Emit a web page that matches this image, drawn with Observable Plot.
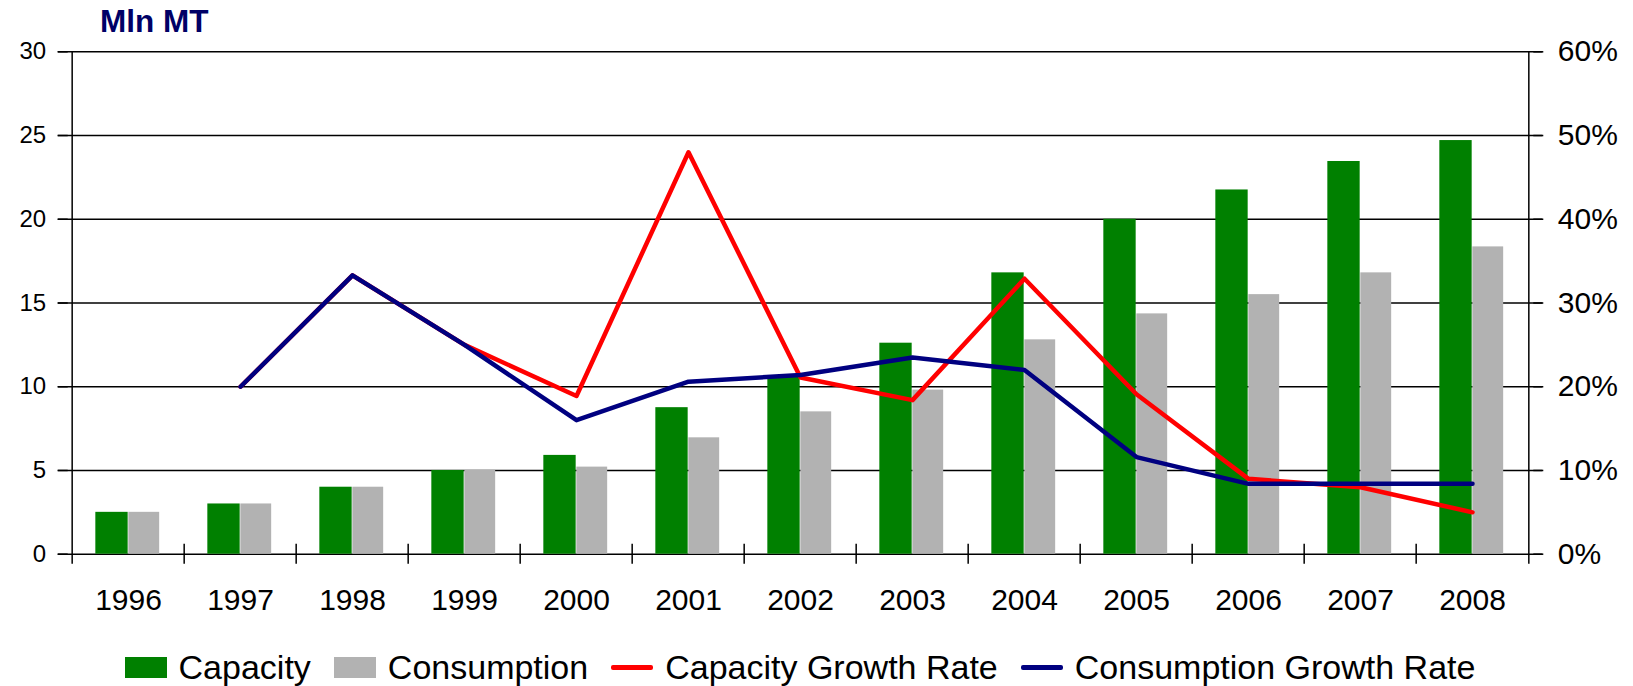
<!DOCTYPE html>
<html>
<head>
<meta charset="utf-8">
<script src="https://cdn.jsdelivr.net/npm/d3@7"></script>
<script src="https://cdn.jsdelivr.net/npm/@observablehq/plot@0.6"></script>
<style>
  html, body { margin: 0; padding: 0; background: #fff; }
  #wrap { position: relative; width: 1633px; height: 686px; background: #fff; font-family: "Liberation Sans", Arial, sans-serif; }
  #title { position: absolute; left: 100px; top: 6px; font-weight: bold; font-size: 31.5px; line-height: 31px; color: #000066; z-index: 2; }
  #legend { position: absolute; left: 0; top: 650px; width: 1600px; height: 34px; display: flex; justify-content: center; align-items: center; font-size: 34px; line-height: 34px; color: #000; }
  .item { display: flex; align-items: center; margin: 0 11.5px; white-space: nowrap; }
  .sw { width: 42px; height: 21px; margin-right: 12px; }
  .ln { width: 42px; height: 5px; margin-right: 12px; border-radius: 2px; }
</style>
</head>
<body>
<div id="wrap">
  <div id="title">Mln MT</div>
  <div id="chart"></div>
  <div id="legend"></div>
</div>
<script>
// ---- Data ----
const years = ["1996","1997","1998","1999","2000","2001","2002","2003","2004","2005","2006","2007","2008"];
const capacity    = [2.5, 3, 4, 5, 5.9, 8.75, 10.65, 12.6, 16.8, 20, 21.75, 23.45, 24.7];
const consumption = [2.5, 3, 4, 5, 5.2, 6.95, 8.5, 9.8, 12.8, 14.35, 15.5, 16.8, 18.35];
const capacityGrowth    = [null, 20, 33.3, 25, 18.9, 48, 21.1, 18.4, 32.9, 19.1, 9.0, 8.0, 5.0];
const consumptionGrowth = [null, 20, 33.3, 25, 16.0, 20.6, 21.4, 23.5, 22.0, 11.6, 8.4, 8.4, 8.4];
const leftTicks = [0, 5, 10, 15, 20, 25, 30];
const rightTickLabels = ["0%", "10%", "20%", "30%", "40%", "50%", "60%"];
const leftMax = 30, rightMax = 60;
const seriesNames = ["Capacity", "Consumption", "Capacity Growth Rate", "Consumption Growth Rate"];
const colors = {capacity: "#008000", consumption: "#B2B2B2", capGrowth: "#FF0000", conGrowth: "#000080"};

const rows = years.map((year, i) => ({
  year,
  capacity: capacity[i],
  consumption: consumption[i],
  capGrowth: capacityGrowth[i],
  conGrowth: consumptionGrowth[i]
}));

// ---- Layout ----
const W = 1633, H = 630;
const ML = 67.7, MR = 100.7, MT = 51.3, MB = H - 553.7;
const band = (W - ML - MR) / years.length;
const pct = v => v == null ? NaN : v * leftMax / rightMax;

const chart = Plot.plot({
  width: W,
  height: H,
  marginLeft: ML,
  marginRight: MR,
  marginTop: MT,
  marginBottom: MB,
  style: {fontFamily: "'Liberation Sans', Arial, sans-serif", fontSize: "30px", color: "#000", background: "#fff", overflow: "visible"},
  x: {type: "band", domain: years, padding: 0},
  y: {domain: [0, leftMax]},
  marks: [
    Plot.ruleY(leftTicks, {stroke: "#000", strokeWidth: 1.5, insetLeft: -10, insetRight: -10}),
    Plot.barY(rows, {x: "year", y: "capacity", fill: colors.capacity, insetLeft: band / 2 - 33, insetRight: band / 2}),
    Plot.barY(rows, {x: "year", y: "consumption", fill: colors.consumption, insetLeft: band / 2, insetRight: band / 2 - 31.5}),
    Plot.line(rows, {x: "year", y: d => pct(d.capGrowth), stroke: colors.capGrowth, strokeWidth: 4.5, strokeLinejoin: "round", strokeLinecap: "round"}),
    Plot.line(rows, {x: "year", y: d => pct(d.conGrowth), stroke: colors.conGrowth, strokeWidth: 4.5, strokeLinejoin: "round", strokeLinecap: "round"}),
    // vertical axis lines
    Plot.ruleX([years[0]], {x: d => d, dx: -band / 2, stroke: "#000", strokeWidth: 1.5, insetBottom: -10}),
    Plot.ruleX([years[years.length - 1]], {x: d => d, dx: band / 2, stroke: "#000", strokeWidth: 1.5, insetBottom: -10}),
    // category boundary tick marks
    Plot.ruleX(years.slice(1), {x: d => d, dx: -band / 2, y1: 0, y2: 0, insetTop: -10, insetBottom: -10, stroke: "#000", strokeWidth: 1.5}),
    Plot.axisY({anchor: "left", ticks: leftTicks, tickSize: 10, tickPadding: 12, fontSize: 24, label: null, strokeWidth: 1.5}),
    Plot.axisY({anchor: "right", ticks: leftTicks, tickFormat: (d, i) => rightTickLabels[i], tickSize: 10, tickPadding: 15, fontSize: 30, label: null, strokeWidth: 1.5}),
    Plot.axisX({anchor: "bottom", tickSize: 0, tickPadding: 34, fontSize: 30, label: null})
  ]
});
document.getElementById("chart").appendChild(chart);

// ---- Legend ----
const legend = document.getElementById("legend");
const legendColors = [colors.capacity, colors.consumption, colors.capGrowth, colors.conGrowth];
seriesNames.forEach((name, i) => {
  const item = document.createElement("div");
  item.className = "item";
  const sw = document.createElement("div");
  sw.className = i < 2 ? "sw" : "ln";
  sw.style.background = legendColors[i];
  const label = document.createElement("span");
  label.textContent = name;
  item.appendChild(sw);
  item.appendChild(label);
  legend.appendChild(item);
});
</script>
</body>
</html>
